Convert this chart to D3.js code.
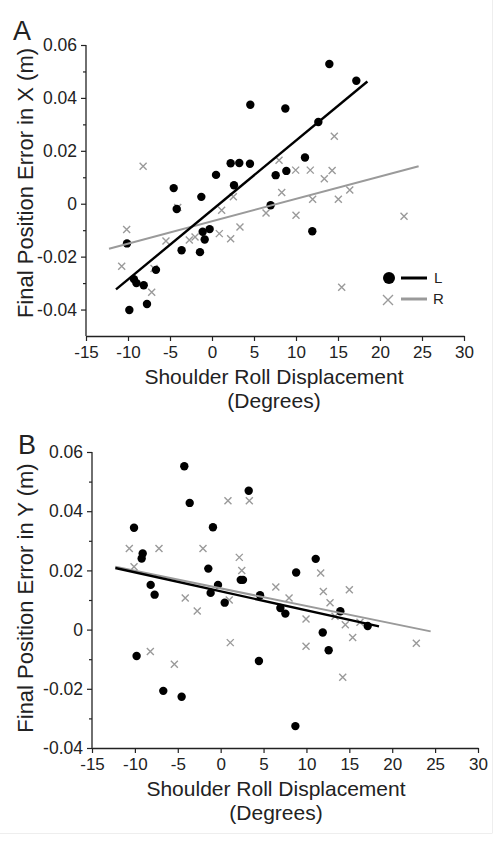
<!DOCTYPE html>
<html><head><meta charset="utf-8">
<script src="https://cdn.jsdelivr.net/npm/d3@7"></script>
<style>body{margin:0;background:#fff}svg{display:block;font-family:"Liberation Sans",Arial,sans-serif}</style>
</head><body><svg id="c" width="502" height="844"></svg>
<script>
// ---- data ----
const xTicks = [-15,-10,-5,0,5,10,15,20,25,30];
const yTicks = [-0.04,-0.02,0,0.02,0.04,0.06];
const yMinor = [-0.03,-0.01,0.01,0.03,0.05];
const seriesNames = ["L","R"];

const aLeft = [[4.56,0.0374],[8.73,0.036],[-4.56,0.0059],[0.48,0.0109],[2.22,0.0153],[3.25,0.0154],[4.52,0.0151],[2.62,0.0070],[7.58,0.0108],[8.85,0.0124],[13.97,0.0528],[17.18,0.0465],[12.66,0.0309],[11.07,0.0175],[11.94,-0.0104],[-1.27,0.0026],[-4.2,-0.0020],[6.98,-0.0006],[-1.11,-0.0106],[-0.28,-0.0096],[-0.87,-0.0135],[-3.62,-0.0176],[-1.43,-0.0183],[-10.12,-0.0150],[-6.67,-0.0250],[-9.3,-0.0285],[-9.0,-0.0300],[-8.13,-0.0308],[-7.74,-0.0379],[-9.84,-0.0402]];
const aRight = [[-8.2,0.0142],[7.98,0.0164],[9.96,0.0127],[14.56,0.0255],[11.7,0.0127],[14.3,0.0126],[13.37,0.0094],[8.3,0.0042],[11.98,0.0017],[15.04,0.0017],[16.4,0.0052],[10,-0.0044],[22.86,-0.0047],[15.44,-0.0316],[-10.16,-0.0097],[-5.48,-0.0141],[-2.7,-0.0137],[-2.02,-0.0126],[-4.08,-0.0014],[1.15,-0.0025],[2.54,0.0026],[0.87,-0.0113],[2.22,-0.0132],[3.33,-0.0088],[6.43,-0.0035],[-10.75,-0.0236],[-6.9,-0.0245],[-7.18,-0.0335]];
const aLeftFit = [[-11.43,-0.0324],[18.5,0.0462]];
const aRightFit = [[-12.26,-0.0170],[24.6,0.0142]];

const bLeft = [[-4.24,0.0552],[3.27,0.0469],[-3.61,0.0428],[-10.1,0.0344],[-0.9,0.0346],[-9.09,0.0257],[-9.21,0.0240],[-1.44,0.0206],[8.8,0.0193],[2.34,0.0168],[2.6,0.0168],[-8.16,0.0151],[-7.7,0.0118],[-1.17,0.0124],[-0.31,0.0151],[0.47,0.0091],[4.59,0.0116],[6.96,0.0073],[7.54,0.0054],[-9.8,-0.0089],[4.46,-0.0106],[-6.69,-0.0207],[-4.55,-0.0227],[8.71,-0.0326],[13.95,0.0062],[17.14,0.0012],[11.9,-0.0010],[12.59,-0.0070],[11.08,0.0239]];
const bRight = [[0.85,0.0435],[3.34,0.0435],[-10.65,0.0274],[-7.19,0.0274],[-2.06,0.0274],[2.17,0.0244],[2.46,0.0200],[-10.1,0.0212],[-4.13,0.0107],[-2.73,0.0063],[1.0,0.0100],[6.43,0.0144],[7.97,0.0107],[1.12,-0.0044],[-8.2,-0.0074],[-5.4,-0.0117],[11.66,0.0191],[11.97,0.0129],[15.0,0.0135],[12.75,0.0091],[9.95,0.0036],[13.33,0.0045],[14.53,0.0016],[16.24,0.0025],[15.39,-0.0027],[9.95,-0.0056],[22.81,-0.0046],[14.23,-0.0161]];
const bLeftFit = [[-12.28,0.0208],[18.46,0.0011]];
const bRightFit = [[-12.28,0.0212],[24.48,-0.0006]];

// ---- drawing ----
const svg = d3.select("#c");
const ink = "#222", grey = "#9a9a9a";
const hy = s => s.replace("\u2212","-");

// faint figure border
svg.append("line").attr("x1",492.5).attr("x2",492.5).attr("y1",0).attr("y2",833).attr("stroke","#eee");
svg.append("line").attr("x1",0).attr("x2",492.5).attr("y1",833.5).attr("y2",833.5).attr("stroke","#eee");

function panel(o){
  const x = d3.scaleLinear().domain([-15,30]).range([o.x0,o.x1]);
  const y = d3.scaleLinear().domain(o.ydom).range([o.yb,o.yt]);
  const g = svg.append("g");

  const ya = g.append("g").attr("transform",`translate(${o.x0},0)`)
    .call(d3.axisLeft(y).tickValues(yTicks).tickSize(5).tickSizeOuter(0).tickPadding(4)
      .tickFormat(d=> d===0 ? "0" : hy(d3.format(".2f")(d))));
  ya.select(".domain").remove();
  ya.selectAll("text").attr("font-size",17.5).attr("fill",ink).attr("font-family","Liberation Sans, Arial");
  ya.selectAll("line").attr("stroke",ink).attr("stroke-width",1.2);
  g.append("g").attr("transform",`translate(${o.x0},0)`)
    .call(d3.axisLeft(y).tickValues(yMinor).tickSize(3).tickFormat(""))
    .call(s=>{s.select(".domain").remove(); s.selectAll("line").attr("stroke",ink).attr("stroke-width",1.2);});
  g.append("line").attr("x1",o.x0).attr("x2",o.x0).attr("y1",o.yt).attr("y2",o.yb).attr("stroke",ink).attr("stroke-width",1.3);

  const xa = g.append("g").attr("transform",`translate(0,${o.yb})`)
    .call(d3.axisBottom(x).tickValues(xTicks).tickSize(5).tickSizeOuter(0).tickPadding(5).tickFormat(d=>hy(d3.format("d")(d))));
  xa.select(".domain").attr("stroke",ink).attr("stroke-width",1.3);
  xa.selectAll("line").attr("stroke",ink).attr("stroke-width",1.2);
  xa.selectAll("text").attr("font-size",17).attr("fill",ink).attr("font-family","Liberation Sans, Arial");

  const line = d3.line().x(d=>x(d[0])).y(d=>y(d[1]));
  // gray crosses
  const s = 3.5;
  g.append("g").selectAll("path").data(o.right).join("path")
    .attr("d",d=>{const cx=x(d[0]),cy=y(d[1]);return `M${cx-s},${cy-s}L${cx+s},${cy+s}M${cx-s},${cy+s}L${cx+s},${cy-s}`;})
    .attr("stroke",grey).attr("stroke-width",1.4).attr("fill","none");
  // black dots
  g.append("g").selectAll("circle").data(o.left).join("circle")
    .attr("cx",d=>x(d[0])).attr("cy",d=>y(d[1])).attr("r",4.2).attr("fill","#000");
  // fit lines
  g.append("path").datum(o.rightFit).attr("d",line).attr("stroke",grey).attr("stroke-width",2).attr("fill","none");
  g.append("path").datum(o.leftFit).attr("d",line).attr("stroke","#000").attr("stroke-width",2.4).attr("fill","none");

  // titles
  const cx = o.titleX;
  g.append("text").attr("x",cx).attr("y",o.yb+48).attr("text-anchor","middle").attr("font-size",21).attr("fill",ink).text("Shoulder Roll Displacement");
  g.append("text").attr("x",cx).attr("y",o.yb+72).attr("text-anchor","middle").attr("font-size",21).attr("fill",ink).text("(Degrees)");
  g.append("text").attr("transform",`translate(33,${o.ylabCy}) rotate(-90)`).attr("text-anchor","middle")
    .attr("font-size",22).attr("fill",ink).text(o.ylab);
  g.append("text").attr("x",o.letterX).attr("y",o.letterY).attr("font-size",27).attr("fill",ink).text(o.letter);
  return {x,y,g};
}

panel({x0:86,x1:464,yb:336,yt:45,ydom:[-0.05,0.06],left:aLeft,right:aRight,leftFit:aLeftFit,rightFit:aRightFit,
  ylab:"Final Position Error in X (m)",ylabCy:183,letter:"A",letterX:13,letterY:40,titleX:274});
panel({x0:92,x1:478,yb:748,yt:452,ydom:[-0.04,0.06],left:bLeft,right:bRight,leftFit:bLeftFit,rightFit:bRightFit,
  ylab:"Final Position Error in Y (m)",ylabCy:598,letter:"B",letterX:18,letterY:454,titleX:276});

// legend (panel A)
const lg = svg.append("g");
lg.append("circle").attr("cx",389).attr("cy",278).attr("r",6).attr("fill","#000");
lg.append("line").attr("x1",401).attr("x2",427).attr("y1",278).attr("y2",278).attr("stroke","#000").attr("stroke-width",3);
lg.append("text").attr("x",434).attr("y",283).attr("font-size",15).attr("fill",ink).text(seriesNames[0]);
const lx=388, ly=300, ls=5;
lg.append("path").attr("d",`M${lx-ls},${ly-ls}L${lx+ls},${ly+ls}M${lx-ls},${ly+ls}L${lx+ls},${ly-ls}`).attr("stroke",grey).attr("stroke-width",1.4);
lg.append("line").attr("x1",401).attr("x2",427).attr("y1",299).attr("y2",299).attr("stroke",grey).attr("stroke-width",3);
lg.append("text").attr("x",433).attr("y",304).attr("font-size",15).attr("fill",ink).text(seriesNames[1]);
</script></body></html>
